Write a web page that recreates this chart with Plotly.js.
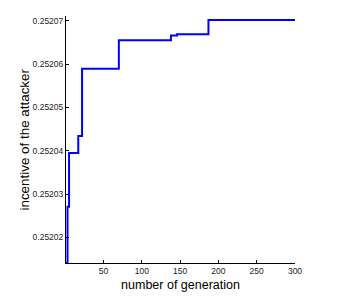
<!DOCTYPE html>
<html>
<head>
<meta charset="utf-8">
<script src="https://cdn.plot.ly/plotly-3.0.1.min.js"></script>
<style>
html,body{margin:0;padding:0;background:#fff;}
#chart{width:347px;height:300px;}
</style>
</head>
<body>
<div id="chart"></div>
<script>
var generation = [1, 3, 5, 17, 22, 70, 138, 146, 187, 300];
var incentive = [0.2520141, 0.2520271, 0.2520395, 0.2520434, 0.2520589, 0.2520655, 0.2520666, 0.2520669, 0.2520702, 0.2520702];
var xTicks = [50, 100, 150, 200, 250, 300];
var yTicks = [0.25202, 0.25203, 0.25204, 0.25205, 0.25206, 0.25207];
var yTitle = 'incentive of the attacker';
var xTitle = 'number of generation';

var trace = {
  x: generation,
  y: incentive,
  type: 'scatter',
  mode: 'lines',
  line: {shape: 'hv', color: '#0000ff', width: 2},
  hoverinfo: 'none'
};

var layout = {
  width: 347,
  height: 300,
  margin: {l: 66, r: 52, t: 16, b: 37},
  paper_bgcolor: '#ffffff',
  plot_bgcolor: '#ffffff',
  showlegend: false,
  font: {family: 'Liberation Sans, Arial, sans-serif', color: '#000'},
  xaxis: {
    range: [1, 300],
    tickvals: xTicks,
    ticktext: xTicks.map(String),
    ticks: 'inside',
    ticklen: 3,
    tickcolor: '#000',
    showline: true,
    linecolor: '#000',
    linewidth: 1,
    showgrid: false,
    zeroline: false,
    tickfont: {size: 8.5, color: '#222'},
    title: {text: xTitle, font: {size: 12.5, color: '#000'}, standoff: 5}
  },
  yaxis: {
    range: [0.2520141, 0.2520711],
    tickvals: yTicks,
    tickformat: '.5f',
    ticks: 'inside',
    ticklen: 3,
    tickcolor: '#000',
    showline: true,
    linecolor: '#000',
    linewidth: 1,
    showgrid: false,
    zeroline: false,
    tickfont: {size: 8.5, color: '#222'}
  },
  annotations: [{
    text: yTitle,
    xref: 'paper', yref: 'paper',
    x: 0, y: 0.5,
    xshift: -42,
    xanchor: 'center', yanchor: 'middle',
    textangle: -90,
    showarrow: false,
    font: {size: 13.4, color: '#000'}
  }]
};

Plotly.newPlot('chart', [trace], layout, {displayModeBar: false, staticPlot: true});
</script>
</body>
</html>
